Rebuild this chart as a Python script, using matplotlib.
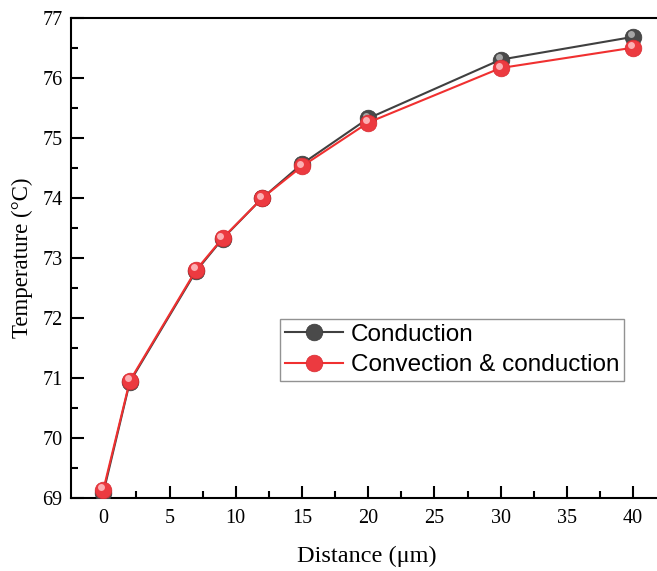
import matplotlib
matplotlib.use('Agg')
import matplotlib.pyplot as plt
from matplotlib.transforms import offset_copy
from matplotlib.ticker import MultipleLocator

# data
distance = [0, 2, 7, 9, 12, 15, 20, 30, 40]
conduction = [69.08, 70.93, 72.78, 73.32, 74.0, 74.57, 75.33, 76.31, 76.69]
conv_cond = [69.13, 70.95, 72.80, 73.33, 74.0, 74.53, 75.26, 76.17, 76.51]

plt.rcParams['font.family'] = 'Liberation Serif'

fig = plt.figure(figsize=(6.57, 5.71), dpi=100)
ax = fig.add_axes([71/657, 1 - 497.7/571, 1 - 71/657 + 0.01, (497.7 - 18.3)/571])

hl = offset_copy(ax.transData, fig=fig, x=-1.5, y=1.8, units='points')

# black series
l1, = ax.plot(distance, conduction, '-o', color='#404040', lw=1.5,
              ms=12, mfc='#4a4a4a', mec='#3a3a3a', mew=0.5, zorder=3)
ax.plot(distance, conduction, 'o', ms=5, mfc='#bdbdbd', mec='none',
        alpha=0.8, transform=hl, zorder=4)

# red series
l2, = ax.plot(distance, conv_cond, '-o', color='#f03030', lw=1.5,
              ms=12, mfc='#ec3a40', mec='#d82a30', mew=0.5, zorder=5)
ax.plot(distance, conv_cond, 'o', ms=5, mfc='#ffc4c8', mec='none',
        alpha=0.85, transform=hl, zorder=6)

ax.set_xlim(-2.44, 42.3)
ax.set_ylim(69, 77)
ax.xaxis.set_major_locator(MultipleLocator(5))
ax.xaxis.set_minor_locator(MultipleLocator(2.5))
ax.yaxis.set_major_locator(MultipleLocator(1))
ax.yaxis.set_minor_locator(MultipleLocator(0.5))
ax.tick_params(which='both', direction='in', width=1.5, labelsize=14.5, top=False, right=False)
ax.tick_params(which='major', length=9)
ax.tick_params(which='minor', length=5)
ax.tick_params(axis='x', pad=8)
ax.tick_params(axis='y', pad=6)
for s in ax.spines.values():
    s.set_linewidth(1.5)

ax.set_xlabel('Distance (μm)', fontsize=17.5, labelpad=13)
ax.set_ylabel('Temperature (°C)', fontsize=16.5, labelpad=7)

leg = ax.legend([l1, l2], ['Conduction', 'Convection & conduction'],
                loc='upper left', bbox_to_anchor=(0.353, 0.373), borderaxespad=0,
                frameon=True, fancybox=False, edgecolor='#777777',
                prop={'family': 'Liberation Sans', 'size': 17.5},
                handlelength=2.4, handletextpad=0.3, labelspacing=0.35,
                borderpad=0.2)
leg.get_frame().set_linewidth(1.0)

fig.savefig('out.png', dpi=100)
